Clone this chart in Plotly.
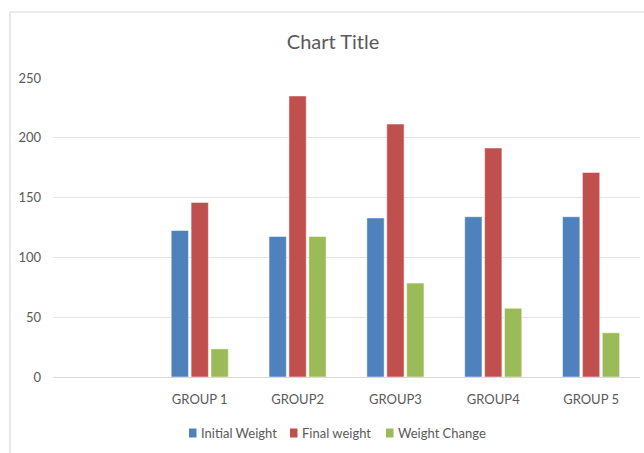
import plotly.graph_objects as go

groups = ["GROUP 1", "GROUP2", "GROUP3", "GROUP4", "GROUP 5"]
initial_weight = [122.5, 117.5, 133, 134, 134]
final_weight = [146, 235, 211.5, 191.5, 171]
weight_change = [23.5, 117.5, 78.5, 57.5, 37]
y_ticks = [0, 50, 100, 150, 200, 250]

series_names = ["Initial Weight", "Final weight", "Weight Change"]
series_colors = ["#4F81BD", "#C0504D", "#9BBB59"]
series_values = [initial_weight, final_weight, weight_change]

W, H = 644, 453
L, R, T, B = 53, 4, 78, 76
pw, ph = W - L - R, H - T - B

xpos = list(range(1, len(groups) + 1))

fig = go.Figure()
for name, color, vals in zip(series_names, series_colors, series_values):
    fig.add_trace(go.Bar(name=name, x=xpos, y=vals, showlegend=False,
                         marker=dict(color=color, line=dict(color="#ffffff", width=0.5))))

font_family = "Lato, 'Open Sans', sans-serif"


def px_x(px):
    return (px - L) / pw


def px_y(py):
    return (H - B - py) / ph


# frame lines (outer chart border, partially visible)
fig.add_shape(type="line", xref="paper", yref="paper", x0=px_x(10), x1=px_x(10),
              y0=px_y(12), y1=px_y(470), line=dict(color="#d9d9d9", width=1.2))
fig.add_shape(type="line", xref="paper", yref="paper", x0=px_x(10), x1=px_x(660),
              y0=px_y(12), y1=px_y(12), line=dict(color="#d9d9d9", width=1.2))

# legend (drawn manually to match compact spacing)
legend_square_x = [189, 290, 386]
legend_cy = 433
for name, color, sx in zip(series_names, series_colors, legend_square_x):
    fig.add_shape(type="rect", xref="paper", yref="paper",
                  x0=px_x(sx), x1=px_x(sx + 7.5), y0=px_y(legend_cy + 4.5), y1=px_y(legend_cy - 4.5),
                  fillcolor=color, line=dict(width=0))
    fig.add_annotation(text=name, xref="paper", yref="paper", x=px_x(sx + 10), y=px_y(legend_cy),
                       xanchor="left", yanchor="middle", showarrow=False,
                       font=dict(family=font_family, size=13, color="#595959"))

fig.update_layout(
    width=W, height=H,
    margin=dict(l=L, r=R, t=T, b=B),
    paper_bgcolor="white", plot_bgcolor="white",
    barmode="group", bargap=0.39, bargroupgap=0.13,
    title=dict(text="Chart Title", x=333 / W, xanchor="center", y=1 - 42 / H, yanchor="middle",
               font=dict(family=font_family, size=20, color="#595959")),
    font=dict(family=font_family, color="#595959", size=12),
    showlegend=False,
    xaxis=dict(range=[-0.5, 5.5], tickmode="array", tickvals=xpos, ticktext=groups,
               showgrid=False, zeroline=False, showline=False, ticks="",
               ticklabelstandoff=13,
               tickfont=dict(size=13, color="#595959")),
    yaxis=dict(range=[0, 250], tickmode="array", tickvals=y_ticks,
               showgrid=True, gridcolor="#e3e3e3", gridwidth=1,
               zeroline=True, zerolinecolor="#d9d9d9", zerolinewidth=1,
               showline=False, ticks="", ticklabelstandoff=11,
               tickfont=dict(size=13, color="#595959")),
)

fig.write_html("out.html")
